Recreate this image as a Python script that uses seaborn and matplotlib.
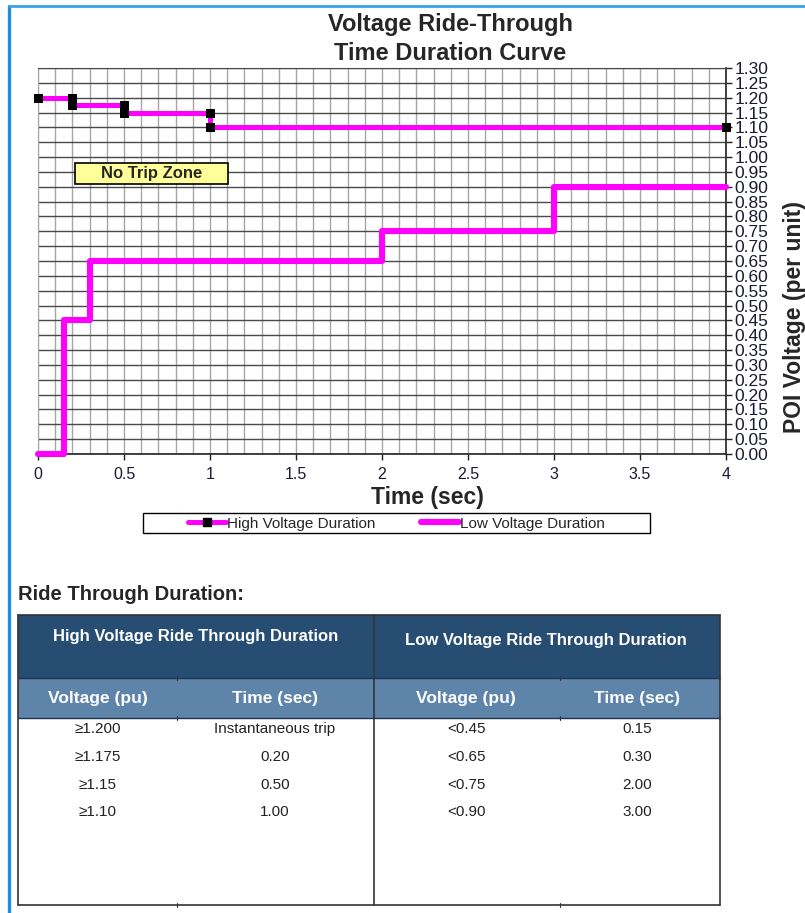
import matplotlib
matplotlib.use("Agg")
import matplotlib.pyplot as plt
import seaborn as sns
import numpy as np
import pandas as pd
from matplotlib.patches import Rectangle
from matplotlib.lines import Line2D

# ---------------- data ----------------
hv_time = [0.0, 0.2, 0.2, 0.5, 0.5, 1.0, 1.0, 4.0]
hv_volt = [1.20, 1.20, 1.175, 1.175, 1.15, 1.15, 1.10, 1.10]
lv_time = [0.0, 0.15, 0.15, 0.30, 0.30, 2.0, 2.0, 3.0, 3.0, 4.0]
lv_volt = [0.0, 0.0, 0.45, 0.45, 0.65, 0.65, 0.75, 0.75, 0.90, 0.90]
series_labels = ["High Voltage Duration", "Low Voltage Duration"]

x_ticks = [0, 0.5, 1, 1.5, 2, 2.5, 3, 3.5, 4]
x_tick_labels = ["0", "0.5", "1", "1.5", "2", "2.5", "3", "3.5", "4"]
y_ticks = [round(0.05 * i, 2) for i in range(27)]

table_title = "Ride Through Duration:"
group_headers = ["High Voltage Ride Through Duration", "Low Voltage Ride Through Duration"]
col_headers = ["Voltage (pu)", "Time (sec)", "Voltage (pu)", "Time (sec)"]
hv_voltage_col = ["\u22651.200", "\u22651.175", "\u22651.15", "\u22651.10"]
hv_time_col = ["Instantaneous trip", "0.20", "0.50", "1.00"]
lv_voltage_col = ["<0.45", "<0.65", "<0.75", "<0.90"]
lv_time_col = ["0.15", "0.30", "2.00", "3.00"]

# ---------------- style ----------------
sns.set_style("white")
plt.rcParams["font.family"] = ["Liberation Sans", "DejaVu Sans"]
NARROW = ["Liberation Sans Narrow", "Liberation Sans", "DejaVu Sans"]
MAG = "#FF00FF"

W, H = 805, 913
fig = plt.figure(figsize=(W / 100, H / 100), dpi=100)

def fx(x):
    return x / W

def fy(y):
    return 1 - y / H

# overlay axes in pixel coordinates (for frame, table)
ov = fig.add_axes([0, 0, 1, 1], zorder=0)
ov.set_xlim(0, W)
ov.set_ylim(H, 0)
ov.axis("off")
ov.patch.set_visible(False)

# ---------------- main chart ----------------
ax = fig.add_axes([fx(38), fy(454), fx(726) - fx(38), fy(68) - fy(454)], zorder=2)
ax.set_xlim(0, 4)
ax.set_ylim(0, 1.30)

df_hv = pd.DataFrame({"t": hv_time, "v": hv_volt})
df_lv = pd.DataFrame({"t": lv_time, "v": lv_volt})

sns.lineplot(data=df_lv, x="t", y="v", sort=False, estimator=None, ax=ax,
             color=MAG, linewidth=4.4, label=series_labels[1], zorder=3,
             clip_on=False)
sns.lineplot(data=df_hv, x="t", y="v", sort=False, estimator=None, ax=ax,
             color=MAG, linewidth=3.6, marker="s", markersize=5.5,
             markerfacecolor="black", markeredgecolor="black",
             label=series_labels[0], zorder=4, clip_on=False)

# grid
ax.set_xticks(np.arange(0, 4.0001, 0.1), minor=True)
ax.set_xticks(x_ticks)
ax.set_xticklabels(x_tick_labels)
ax.set_yticks(y_ticks)
ax.set_yticklabels([f"{v:.2f}" for v in y_ticks])
ax.grid(True, which="minor", axis="x", color="#a6a6a6", linewidth=1.0)
ax.grid(True, which="major", axis="x", color="#a6a6a6", linewidth=1.0)
ax.grid(True, which="major", axis="y", color="#4a4a4a", linewidth=1.0)
ax.set_axisbelow(True)

ax.yaxis.tick_right()
ax.yaxis.set_label_position("right")
ax.tick_params(axis="y", which="major", direction="out", length=4, width=1,
               color="#222222", labelsize=12.5, labelcolor="#1a1a33", pad=2,
               left=False, right=True)
ax.tick_params(axis="x", which="major", direction="out", length=4, width=1,
               color="#222222", labelsize=11.5, labelcolor="#1a1a33", pad=5,
               bottom=True)
ax.tick_params(axis="x", which="minor", length=0)
for lab in ax.get_yticklabels() + ax.get_xticklabels():
    lab.set_family(NARROW)

for side in ["right", "bottom"]:
    ax.spines[side].set_color("#222222")
    ax.spines[side].set_linewidth(1.2)
ax.spines["top"].set_color("#4a4a4a")
ax.spines["left"].set_color("#a6a6a6")
ax.set_xlabel("")
ax.set_ylabel("")

# No Trip Zone box
ax.add_patch(Rectangle(((75 - 38) / 172.0, (454 - 184) / 296.9),
                       (228 - 75) / 172.0, (184 - 163) / 296.9,
                       facecolor="#FFFF99", edgecolor="black", linewidth=1.2,
                       zorder=5))
ax.text(((75 + 228) / 2 - 38) / 172.0, (454 - 174) / 296.9, "No Trip Zone",
        ha="center", va="center", fontsize=12, fontweight="bold", zorder=6)

# legend
handles = [Line2D([], [], color=MAG, linewidth=3.6, marker="s", markersize=5.5,
                  markerfacecolor="black", markeredgecolor="black"),
           Line2D([], [], color=MAG, linewidth=4.4)]
leg = ax.legend(handles, series_labels, loc="center left",
                bbox_to_anchor=(fx(180), fy(523.5)), bbox_transform=fig.transFigure,
                ncol=2, frameon=False, borderpad=0, handlelength=2.5,
                handletextpad=0.05, columnspacing=3.0,
                prop={"family": NARROW, "size": 11})
ov.add_patch(Rectangle((143, 513), 650 - 143, 533 - 513, facecolor="white",
                       edgecolor="black", linewidth=1.0))

# titles / labels
fig.text(fx(450), fy(25), "Voltage Ride-Through", ha="center", va="center",
         fontsize=17, fontweight="bold")
fig.text(fx(450), fy(53), "Time Duration Curve", ha="center", va="center",
         fontsize=17, fontweight="bold")
fig.text(fx(427), fy(497), "Time (sec)", ha="center", va="center",
         fontsize=16.5, fontweight="bold")
fig.text(fx(794), fy(317), "POI Voltage (per unit)", ha="center", va="center",
         rotation=90, fontsize=16.5, fontweight="bold")

# blue page frame
ov.add_line(Line2D([9, 9], [6, H], color="#1E8FD8", linewidth=2.4))
ov.add_line(Line2D([9, W], [6.5, 6.5], color="#3AA3E3", linewidth=2.0))

# ---------------- table ----------------
ov.text(18, 594, table_title, ha="left", va="center", fontsize=14.5,
        fontweight="bold")
NAVY = "#284D73"
STEEL = "#5E84AA"
tx0, tx1 = 18, 720
ov.add_patch(Rectangle((tx0, 615), tx1 - tx0, 678 - 615, facecolor=NAVY,
                       edgecolor="none"))
ov.add_patch(Rectangle((tx0, 678), tx1 - tx0, 718 - 678, facecolor=STEEL,
                       edgecolor="none"))
line_kw = dict(color="#333333", linewidth=1.2)
ov.add_line(Line2D([tx0, tx0], [615, 905], **line_kw))
ov.add_line(Line2D([tx1, tx1], [615, 905], **line_kw))
ov.add_line(Line2D([374, 374], [615, 905], **line_kw))
ov.add_line(Line2D([tx0, tx1], [905, 905], **line_kw))
ov.add_line(Line2D([tx0, tx1], [615, 615], **line_kw))
ov.add_line(Line2D([tx0, tx1], [678, 678], color="#1e3550", linewidth=1.0))
ov.add_line(Line2D([tx0, tx1], [718, 718], color="#1e3550", linewidth=1.0))
for xx in (177, 560):
    for yy in (678, 718, 905):
        ov.add_line(Line2D([xx, xx], [yy - 2, yy + 2], color="#333333",
                           linewidth=0.8))

ov.text(196, 636, group_headers[0], ha="center", va="center", color="white",
        fontsize=12, fontweight="bold")
ov.text(546, 641, group_headers[1], ha="center", va="center", color="white",
        fontsize=12, fontweight="bold")
col_centers = [98, 275, 466, 637]
for cx, lab in zip(col_centers, col_headers):
    ov.text(cx, 699, lab, ha="center", va="center", color="white",
            fontsize=12.5, fontweight="bold")
row_y = [729, 757, 785, 812]
for col, cx in zip([hv_voltage_col, hv_time_col, lv_voltage_col, lv_time_col],
                   col_centers):
    for ry, val in zip(row_y, col):
        ov.text(cx, ry, val, ha="center", va="center", fontsize=11,
                color="#222222", family=NARROW)

fig.savefig("out.png", dpi=100)
